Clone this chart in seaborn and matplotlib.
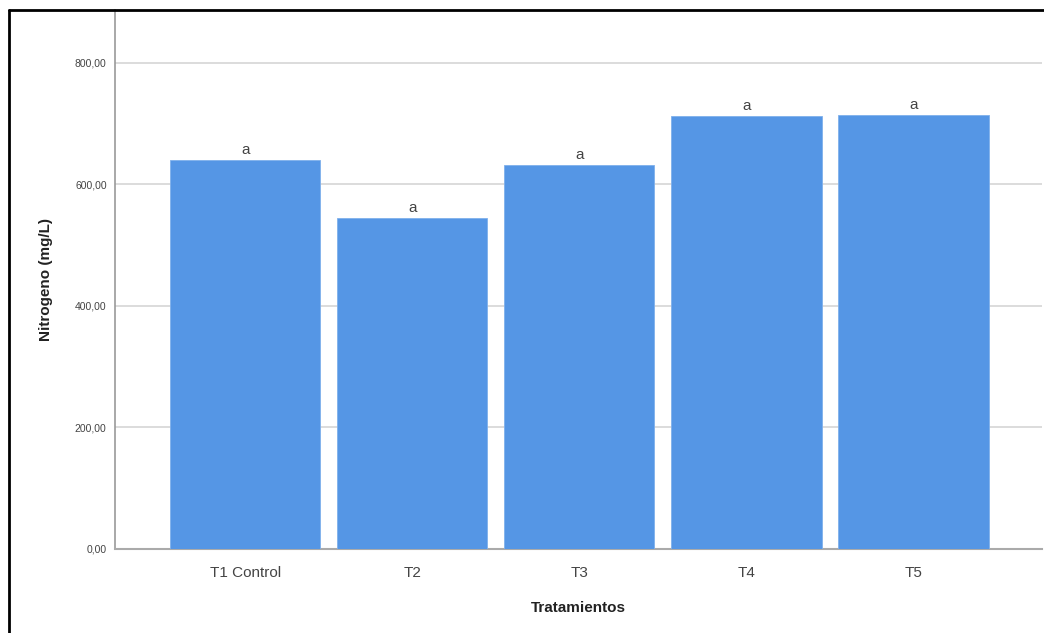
import matplotlib
matplotlib.use("Agg")
import matplotlib.pyplot as plt
import seaborn as sns
import pandas as pd
from matplotlib.lines import Line2D

categories = ["T1 Control", "T2", "T3", "T4", "T5"]
values = [640, 545, 632, 713, 714]
letters = ["a", "a", "a", "a", "a"]
yticks = [0, 200, 400, 600, 800]
ytick_labels = ["0,00", "200,00", "400,00", "600,00", "800,00"]

sns.set_theme(style="white")
plt.rcParams['font.family'] = ['Liberation Sans', 'DejaVu Sans']

df = pd.DataFrame({"Tratamientos": categories, "Nitrogeno": values})

fig = plt.figure(figsize=(10.44, 6.33), dpi=100)
ax = fig.add_axes([115/1044, 84/633, (1042-115)/1044, (549-10)/633])
sns.barplot(data=df, x="Tratamientos", y="Nitrogeno", color="#5596E5",
            saturation=1, width=0.9, edgecolor="#7fb0ec", linewidth=0.6, ax=ax, zorder=3)

ax.set_xlim(-0.78, 4.77)
ax.set_ylim(0, 887)
ax.set_yticks(yticks)
ax.set_yticklabels(ytick_labels, fontsize=7.5, color="#444444")
ax.tick_params(axis="x", labelsize=11, colors="#444444", length=0, pad=12)
ax.tick_params(axis="y", length=0, pad=6)
ax.grid(axis="y", color="#d6d6d6", linewidth=1.2, zorder=0)
ax.set_axisbelow(True)
for s in ["top", "right"]:
    ax.spines[s].set_visible(False)
ax.spines["left"].set_color("#999999")
ax.spines["bottom"].set_color("#aaaaaa")
ax.spines["left"].set_linewidth(1.2)
ax.spines["bottom"].set_linewidth(1.5)

ax.set_xlabel("Tratamientos", fontsize=11, fontweight="bold", color="#222222", labelpad=15)
ax.set_ylabel("Nitrogeno (mg/L)", fontsize=11, fontweight="bold", color="#222222", labelpad=16)

for i, (v, l) in enumerate(zip(values, letters)):
    ax.text(i, v + 5, l, ha="center", va="bottom", fontsize=11, color="#444444")

fig.add_artist(Line2D([9/1044, 9/1044], [0, 1 - 10/633], color="black", linewidth=2, transform=fig.transFigure))
fig.add_artist(Line2D([9/1044, 1], [1 - 10/633, 1 - 10/633], color="black", linewidth=2, transform=fig.transFigure))

fig.savefig("out.png", dpi=100)
